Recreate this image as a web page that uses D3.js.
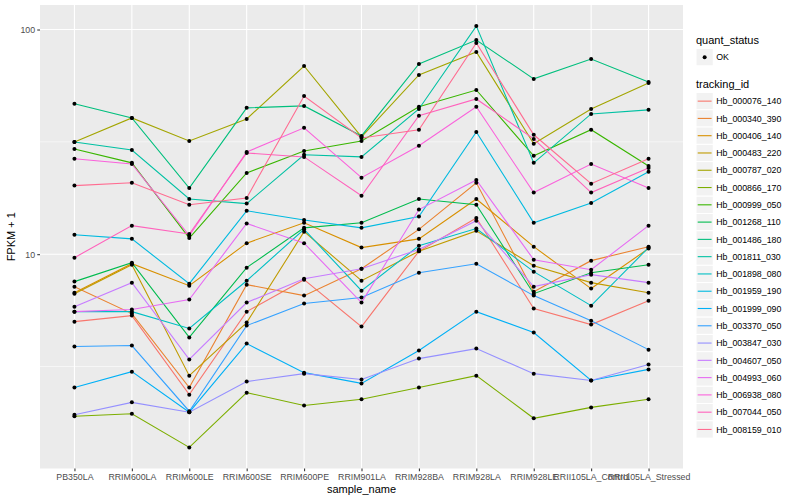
<!DOCTYPE html>
<html><head><meta charset="utf-8">
<script src="https://cdn.jsdelivr.net/npm/d3@7"></script>
<style>
body{margin:0;background:#fff}
svg{display:block}
text{font-family:"Liberation Sans",Arial,Helvetica,sans-serif}
</style>
</head><body>
<svg id="chart" width="800" height="500"></svg>
<script>
const samples = ["PB350LA","RRIM600LA","RRIM600LE","RRIM600SE","RRIM600PE","RRIM901LA","RRIM928BA","RRIM928LA","RRIM928LE","RRII105LA_Control","RRII105LA_Stressed"];
const trackingIds = ["Hb_000076_140","Hb_000340_390","Hb_000406_140","Hb_000483_220","Hb_000787_020","Hb_000866_170","Hb_000999_050","Hb_001268_110","Hb_001486_180","Hb_001811_030","Hb_001898_080","Hb_001959_190","Hb_001999_090","Hb_003370_050","Hb_003847_030","Hb_004607_050","Hb_004993_060","Hb_006938_080","Hb_007044_050","Hb_008159_010"];
const seriesColors = ["#F8766D","#EA8331","#D89000","#C09B00","#A3A500","#7CAE00","#39B600","#00BB4E","#00BF7D","#00C1A3","#00BFC4","#00BAE0","#00B0F6","#35A2FF","#9590FF","#C77CFF","#E76BF3","#FA62DB","#FF62BC","#FF6C91"];
const yTicks = [10, 100];
const quantStatus = ["OK"];

// FPKM + 1 per sample, one array per tracking_id
const Hb_000076_140 = [5.01, 5.33, 2.37, 5.55, 7.70, 4.76, 10.3, 14.5, 5.73, 4.86, 6.21];
const Hb_000340_390 = [7.17, 5.44, 2.55, 7.32, 6.54, 8.62, 12.9, 20.8, 6.81, 9.36, 10.8];
const Hb_000406_140 = [6.74, 9.07, 7.24, 11.2, 13.8, 10.7, 11.7, 17.6, 10.8, 7.03, 10.6];
const Hb_000483_220 = [6.67, 8.98, 2.88, 4.96, 12.6, 7.62, 10.3, 12.7, 8.89, 7.47, 6.74];
const Hb_000787_020 = [31.6, 40.4, 31.9, 40.0, 68.8, 33.3, 62.8, 79.4, 31.0, 44.3, 57.8];
const Hb_000866_170 = [1.90, 1.95, 1.38, 2.42, 2.12, 2.26, 2.55, 2.88, 1.86, 2.08, 2.26];
const Hb_000999_050 = [29.4, 25.5, 11.8, 23.0, 28.8, 31.9, 45.3, 53.8, 27.4, 35.8, 24.7];
const Hb_001268_110 = [7.55, 9.17, 4.26, 8.71, 13.1, 13.8, 17.6, 16.6, 6.67, 8.27, 8.98];
const Hb_001486_180 = [46.7, 40.4, 19.7, 44.8, 45.7, 33.6, 70.3, 89.8, 60.3, 73.9, 58.4];
const Hb_001811_030 = [31.6, 29.1, 17.6, 16.8, 27.7, 27.1, 44.3, 103.6, 25.5, 42.1, 43.9];
const Hb_001898_080 = [5.55, 5.55, 4.67, 7.62, 12.9, 6.88, 10.9, 13.0, 8.36, 5.90, 10.7];
const Hb_001959_190 = [12.2, 11.7, 7.39, 15.6, 14.2, 13.1, 14.7, 35.0, 13.8, 16.9, 23.3];
const Hb_001999_090 = [2.55, 3.00, 1.98, 4.00, 2.97, 2.66, 3.73, 5.55, 4.48, 2.74, 3.07];
const Hb_003370_050 = [3.88, 3.92, 2.00, 4.81, 6.03, 6.41, 8.27, 9.07, 6.54, 5.06, 3.76];
const Hb_003847_030 = [1.93, 2.19, 1.98, 2.71, 2.94, 2.77, 3.43, 3.80, 2.94, 2.74, 3.23];
const Hb_004607_050 = [5.84, 7.47, 3.40, 6.09, 7.78, 8.62, 10.5, 14.1, 7.17, 8.11, 7.47];
const Hb_004993_060 = [5.55, 5.67, 6.28, 13.7, 11.2, 6.09, 15.8, 21.4, 9.45, 8.53, 13.4];
const Hb_006938_080 = [26.6, 25.2, 12.1, 28.5, 36.5, 21.9, 30.4, 45.3, 18.8, 25.2, 19.7];
const Hb_007044_050 = [9.65, 13.4, 12.3, 28.2, 27.1, 18.2, 41.3, 49.1, 32.6, 18.8, 24.2];
const Hb_008159_010 = [20.2, 20.8, 16.6, 17.8, 50.6, 32.9, 35.8, 87.1, 34.0, 20.6, 26.6];

const seriesValues = [Hb_000076_140, Hb_000340_390, Hb_000406_140, Hb_000483_220, Hb_000787_020,
  Hb_000866_170, Hb_000999_050, Hb_001268_110, Hb_001486_180, Hb_001811_030, Hb_001898_080,
  Hb_001959_190, Hb_001999_090, Hb_003370_050, Hb_003847_030, Hb_004607_050, Hb_004993_060,
  Hb_006938_080, Hb_007044_050, Hb_008159_010];

const series = trackingIds.map((id, i) => ({
  id, color: seriesColors[i],
  points: samples.map((s, j) => ({sample: s, value: seriesValues[i][j]}))
}));

const svg = d3.select("#chart");
const panel = {left: 40, right: 683, top: 5, bottom: 468.5};

const x = d3.scalePoint().domain(samples).range([panel.left, panel.right]).padding(0.6);

const allVals = seriesValues.flat();
const lmin = Math.log10(d3.min(allVals)), lmax = Math.log10(d3.max(allVals));
const pad = (lmax - lmin) * 0.05;
const y = d3.scaleLog().domain([Math.pow(10, lmin - pad), Math.pow(10, lmax + pad)]).range([panel.bottom, panel.top]);

// panel background
svg.append("rect").attr("x", panel.left).attr("y", panel.top)
  .attr("width", panel.right - panel.left).attr("height", panel.bottom - panel.top)
  .attr("fill", "#EBEBEB");

const grid = svg.append("g");
// minor y grid (midpoints in log space)
const minorTicks = [Math.pow(10, 0.5), Math.pow(10, 1.5)];
grid.selectAll(".ymin").data(minorTicks).enter().append("line")
  .attr("x1", panel.left).attr("x2", panel.right)
  .attr("y1", d => y(d)).attr("y2", d => y(d))
  .attr("stroke", "#FFFFFF").attr("stroke-width", 0.55);
grid.selectAll(".ymaj").data(yTicks).enter().append("line")
  .attr("x1", panel.left).attr("x2", panel.right)
  .attr("y1", d => y(d)).attr("y2", d => y(d))
  .attr("stroke", "#FFFFFF").attr("stroke-width", 1.1);
grid.selectAll(".xmaj").data(samples).enter().append("line")
  .attr("x1", d => x(d)).attr("x2", d => x(d))
  .attr("y1", panel.top).attr("y2", panel.bottom)
  .attr("stroke", "#FFFFFF").attr("stroke-width", 1.1);

// lines
const line = d3.line().x(d => x(d.sample)).y(d => y(d.value));
const clip = svg.append("clipPath").attr("id", "clip").append("rect")
  .attr("x", panel.left).attr("y", panel.top)
  .attr("width", panel.right - panel.left).attr("height", panel.bottom - panel.top);
const plot = svg.append("g").attr("clip-path", "url(#clip)");
plot.selectAll(".series").data(series).enter().append("path")
  .attr("d", d => line(d.points))
  .attr("fill", "none").attr("stroke", d => d.color).attr("stroke-width", 1.1);

// points
plot.selectAll(".pts").data(series.flatMap(s => s.points)).enter().append("circle")
  .attr("cx", d => x(d.sample)).attr("cy", d => y(d.value))
  .attr("r", 2).attr("fill", "#000");

// axes
const yAxis = d3.axisLeft(y).tickValues(yTicks).tickFormat(d3.format("d")).tickSize(2.75).tickPadding(2.2);
const gy = svg.append("g").attr("transform", `translate(${panel.left},0)`).call(yAxis);
gy.select(".domain").remove();
gy.selectAll(".tick line").attr("stroke", "#333333").attr("stroke-width", 1.07);
gy.selectAll(".tick text").attr("fill", "#4D4D4D").style("font-size", "8.8px");

const xAxis = d3.axisBottom(x).tickSize(2.75).tickPadding(2.2);
const gx = svg.append("g").attr("transform", `translate(0,${panel.bottom})`).call(xAxis);
gx.select(".domain").remove();
gx.selectAll(".tick line").attr("stroke", "#333333").attr("stroke-width", 1.07);
gx.selectAll(".tick text").attr("fill", "#4D4D4D").style("font-size", "8.8px");

// axis titles
svg.append("text").attr("x", (panel.left + panel.right) / 2).attr("y", 493)
  .attr("text-anchor", "middle").style("font-size", "11px").attr("fill", "#000").text("sample_name");
svg.append("text").attr("transform", `translate(15,${(panel.top + panel.bottom) / 2}) rotate(-90)`)
  .attr("text-anchor", "middle").style("font-size", "11px").attr("fill", "#000").text("FPKM + 1");

// legends
const lg = svg.append("g").attr("transform", "translate(696,0)");
const keySize = 17.28;
lg.append("text").attr("x", 0).attr("y", 44).style("font-size", "11px").attr("fill", "#000").text("quant_status");
const qk = lg.selectAll(".qk").data(quantStatus).enter().append("g")
  .attr("transform", (d, i) => `translate(0,${48.5 + i * keySize})`);
qk.append("rect").attr("width", keySize).attr("height", keySize).attr("fill", "#F2F2F2").attr("stroke", "#FFFFFF");
qk.append("circle").attr("cx", keySize / 2).attr("cy", keySize / 2).attr("r", 2).attr("fill", "#000");
qk.append("text").attr("x", keySize + 3).attr("y", keySize / 2 + 3.2).style("font-size", "8.8px").attr("fill", "#000").text(d => d);

lg.append("text").attr("x", 0).attr("y", 88).style("font-size", "11px").attr("fill", "#000").text("tracking_id");
const tk = lg.selectAll(".tk").data(series).enter().append("g")
  .attr("transform", (d, i) => `translate(0,${92.5 + i * keySize})`);
tk.append("rect").attr("width", keySize).attr("height", keySize).attr("fill", "#F2F2F2").attr("stroke", "#FFFFFF");
tk.append("line").attr("x1", 1.7).attr("x2", keySize - 1.7).attr("y1", keySize / 2).attr("y2", keySize / 2)
  .attr("stroke", d => d.color).attr("stroke-width", 1.1);
tk.append("text").attr("x", keySize + 3).attr("y", keySize / 2 + 3.2).style("font-size", "8.8px").attr("fill", "#000").text(d => d.id);
</script>
</body></html>
